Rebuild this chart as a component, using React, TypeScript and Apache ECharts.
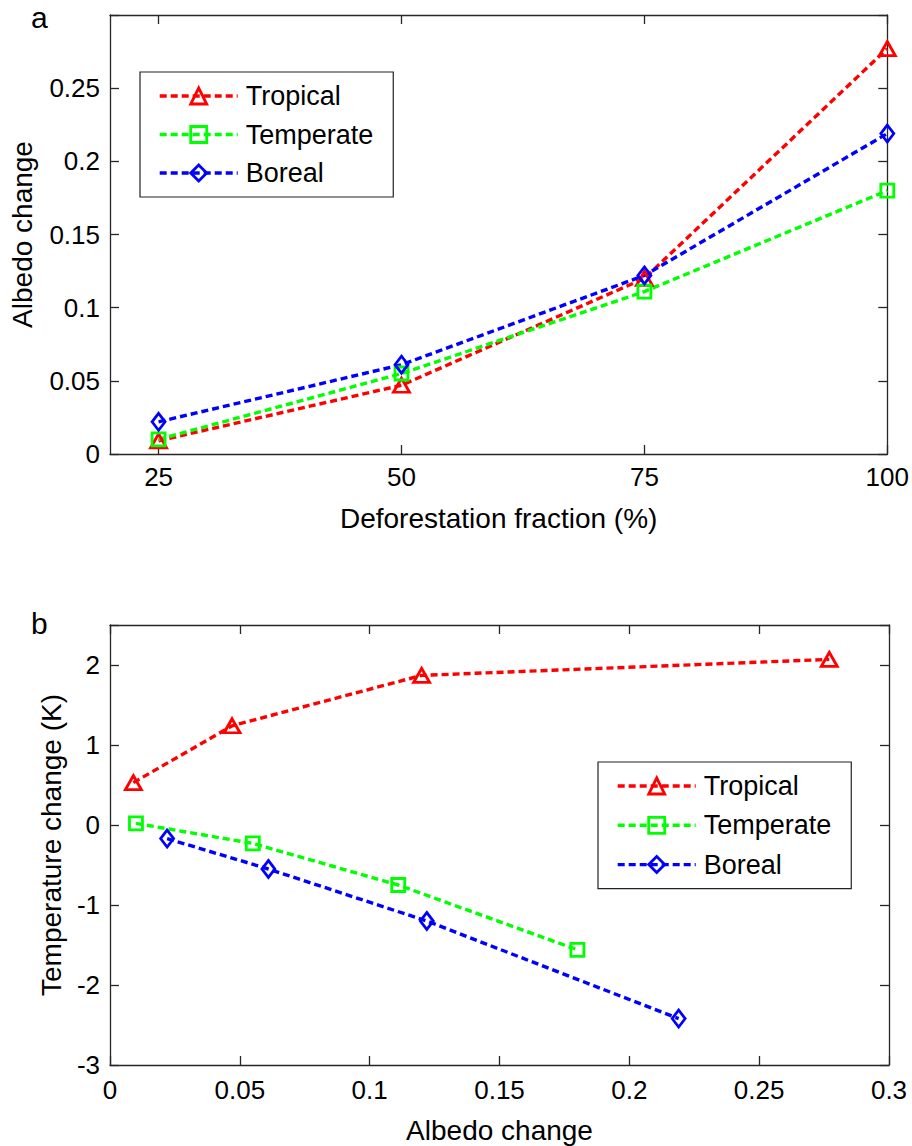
import React, { useEffect, useRef } from "react";
import * as echarts from "echarts";

// ---- Data ----
const fractions = [25, 50, 75, 100];
const fractionTicks = [25, 50, 75, 100];
const tropicalAlbedo = [0.009, 0.047, 0.12, 0.277];
const temperateAlbedo = [0.01, 0.055, 0.111, 0.18];
const borealAlbedo = [0.022, 0.061, 0.122, 0.219];
const tropicalTemp = [0.53, 1.24, 1.87, 2.07];
const temperateTemp = [0.02, -0.23, -0.75, -1.56];
const borealTemp = [-0.17, -0.55, -1.2, -2.42];
const seriesNames = ["Tropical", "Temperate", "Boreal"];

const FONT = "'Liberation Sans', Arial, Helvetica, sans-serif";

const styles = [
  { name: "Tropical", color: "#ff0000", symbol: "triangle", size: [16, 14], albedo: tropicalAlbedo, temp: tropicalTemp },
  { name: "Temperate", color: "#00ff00", symbol: "rect", size: [13, 13], albedo: temperateAlbedo, temp: temperateTemp },
  { name: "Boreal", color: "#0000ff", symbol: "diamond", size: [13, 17], albedo: borealAlbedo, temp: borealTemp },
];

const axisColor = "#262626";

function makeLine(s: any, gridIdx: number, data: number[][]) {
  return {
    type: "line",
    name: s.name,
    xAxisIndex: gridIdx * 2,
    yAxisIndex: gridIdx * 2,
    data,
    symbol: s.symbol,
    symbolSize: s.size,
    showAllSymbol: true,
    lineStyle: { color: s.color, width: 3.4, type: [7, 4] },
    itemStyle: { color: "rgba(0,0,0,0)", borderColor: s.color, borderWidth: 2.8 },
    z: 3,
  };
}

function baseAxis(extra: any) {
  return {
    type: "value",
    splitLine: { show: false },
    axisLine: { show: true, onZero: false, lineStyle: { color: axisColor, width: 1.3 } },
    axisTick: { show: true, inside: true, length: 9, lineStyle: { color: axisColor, width: 1.3 } },
    ...extra,
  };
}

const labelStyle = { fontSize: 26, color: "#000", fontFamily: FONT };
const nameStyle = { fontSize: 28, color: "#000", fontFamily: FONT };

function legendCfg(left: number, top: number, gap: number) {
  return {
    data: seriesNames,
    orient: "vertical",
    left,
    top,
    padding: [9, 20, 9, 18],
    itemWidth: 78,
    itemHeight: 20,
    itemGap: gap,
    borderColor: "#222",
    borderWidth: 1.2,
    backgroundColor: "#fff",
    selectedMode: false,
    lineStyle: { width: 3.4 },
    itemStyle: { borderWidth: 2.8 },
    textStyle: { fontSize: 27, lineHeight: 30, color: "#000", fontFamily: FONT, padding: [0, 0, 0, 3] },
  };
}

export default function App() {
  const ref = useRef<HTMLDivElement>(null);
  useEffect(() => {
    if (!ref.current) return;
    const chart = echarts.init(ref.current, undefined, { renderer: "svg" });
    const series: any[] = [];
    styles.forEach((s) => {
      series.push(makeLine(s, 0, fractions.map((f, i) => [f, s.albedo[i]])));
    });
    styles.forEach((s) => {
      series.push(makeLine(s, 1, s.albedo.map((a, i) => [a, s.temp[i]])));
    });
    const option: any = {
      animation: false,
      backgroundColor: "#fff",
      textStyle: { fontFamily: FONT },
      grid: [
        { left: 110, top: 15, width: 779, height: 439 },
        { left: 110, top: 625, width: 779, height: 440 },
      ],
      xAxis: [
        baseAxis({
          gridIndex: 0, min: 20, max: 100, position: "bottom",
          axisTick: { show: true, inside: true, length: 9, customValues: fractionTicks, lineStyle: { color: axisColor, width: 1.3 } },
          axisLabel: { ...labelStyle, customValues: fractionTicks, margin: 10 },
          name: "Deforestation fraction (%)", nameLocation: "middle", nameGap: 50, nameTextStyle: nameStyle,
        }),
        baseAxis({
          gridIndex: 0, min: 20, max: 100, position: "top",
          axisTick: { show: true, inside: true, length: 9, customValues: fractionTicks, lineStyle: { color: axisColor, width: 1.3 } },
          axisLabel: { show: false },
        }),
        baseAxis({
          gridIndex: 1, min: 0, max: 0.3, interval: 0.05, position: "bottom",
          axisLabel: { ...labelStyle, margin: 12 },
          name: "Albedo change", nameLocation: "middle", nameGap: 51, nameTextStyle: nameStyle,
        }),
        baseAxis({
          gridIndex: 1, min: 0, max: 0.3, interval: 0.05, position: "top",
          axisLabel: { show: false },
        }),
      ],
      yAxis: [
        baseAxis({
          gridIndex: 0, min: 0, max: 0.3, interval: 0.05, position: "left",
          axisLabel: {
            ...labelStyle, margin: 10,
            formatter: (v: number) => (Math.abs(v - 0.3) < 1e-9 ? "" : String(+v.toFixed(2))),
          },
          name: "Albedo change", nameLocation: "middle", nameGap: 74, nameTextStyle: nameStyle,
        }),
        baseAxis({
          gridIndex: 0, min: 0, max: 0.3, interval: 0.05, position: "right",
          axisLabel: { show: false },
        }),
        baseAxis({
          gridIndex: 1, min: -3, max: 2.5, interval: 1, position: "left",
          axisLabel: {
            ...labelStyle, margin: 10,
            formatter: (v: number) => (Number.isInteger(Math.round(v * 1e6) / 1e6) ? String(Math.round(v)) : ""),
          },
          name: "Temperature change (K)", nameLocation: "middle", nameGap: 43, nameTextStyle: nameStyle,
        }),
        baseAxis({
          gridIndex: 1, min: -3, max: 2.5, interval: 1, position: "right",
          axisLabel: { show: false },
        }),
      ],
      legend: [legendCfg(140, 72, 8.5), legendCfg(598, 762, 9.3)],
      graphic: [
        { type: "text", left: 31, top: 2, style: { text: "a", fontSize: 30, fill: "#000", fontFamily: FONT } },
        { type: "text", left: 31, top: 608, style: { text: "b", fontSize: 30, fill: "#000", fontFamily: FONT } },
      ],
      series,
    };
    chart.setOption(option);
    return () => chart.dispose();
  }, []);
  return (
    <div
      ref={ref}
      style={{ position: "absolute", left: 0, top: 0, width: 912, height: 1146 }}
    />
  );
}
